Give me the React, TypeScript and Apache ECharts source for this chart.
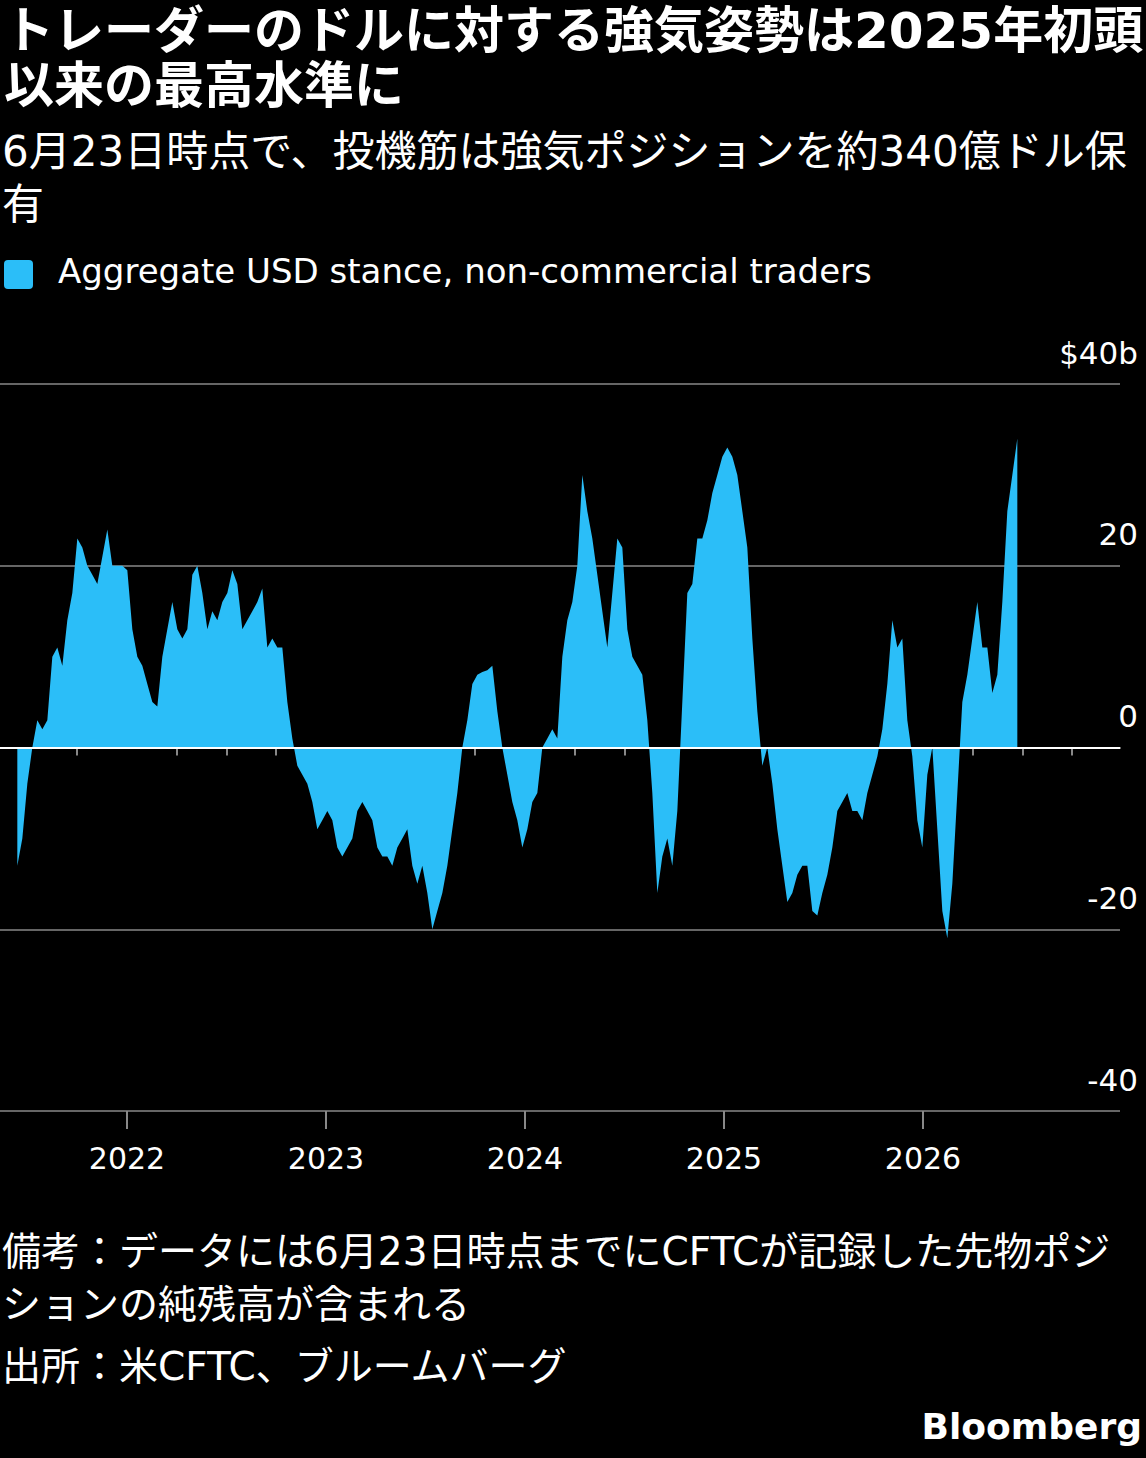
import React, { useEffect, useRef } from 'react';
import * as echarts from 'echarts';

// Net USD stance, $b, roughly every 9 days ending 2026-06-23
const stance = [
  -13, -10, -4, 0, 3, 2, 3, 10, 11, 9, 14, 17, 23, 22, 20, 19, 18, 21, 24, 20,
  20, 20, 19.5, 13, 10, 9, 7, 5, 4.5, 10, 13, 16, 13, 12, 13, 19, 20, 17, 13, 15,
  14, 16, 17, 19.5, 18, 13, 14, 15, 16, 17.5, 11, 12, 11, 11, 5, 1, -2, -3, -4, -6,
  -9, -8, -7, -8, -11, -12, -11, -10, -7, -6, -7, -8, -11, -12, -12, -13, -11, -10, -9, -13,
  -15, -13, -16, -20, -18, -16, -13, -9, -5, 0, 3, 7, 8, 8.3, 8.5, 9, 4, 0, -3, -6,
  -8, -11, -9, -6, -5, 0, 1, 2, 1, 10, 14, 16, 20, 30, 26, 23, 19, 15, 11, 17,
  23, 22, 13, 10, 9, 8, 3, -5, -16, -12, -10, -13, -7, 5, 17, 18, 23, 23, 25, 28,
  30, 32, 33, 32, 30, 26, 22, 12, 4, -2, 0, -4, -9, -13, -17, -16, -14, -13, -13, -18,
  -18.5, -16, -14, -11, -7, -6, -5, -7, -7, -8, -5, -3, -1, 2, 7, 14, 11, 12, 3, -1,
  -8, -11, -3, 0, -9, -18, -21, -15, -5, 5, 8, 12, 16, 11, 11, 6, 8, 16, 26, 30, 34,
];
const endYear = 2026 + 173 / 365; // June 23
const stepYears = 5 / 199;
const yearTicks = [2022, 2023, 2024, 2025, 2026];
const quarterTicks = [
  2021.5, 2021.75, 2022.25, 2022.5, 2022.75, 2023.25, 2023.5, 2023.75, 2024.25, 2024.5,
  2024.75, 2025.25, 2025.5, 2025.75, 2026.25, 2026.5, 2026.75,
];
const yTicks = ['-40', '-20', '0', '20', '$40b'];

const CYAN = '#2bbef8';
const FONT = '"DejaVu Sans", "Noto Sans CJK JP", sans-serif';

export default function App() {
  const ref = useRef<HTMLDivElement>(null);

  useEffect(() => {
    document.body.style.margin = '0';
    document.body.style.background = '#000';
    if (!ref.current) return;
    const chart = echarts.init(ref.current, undefined, { renderer: 'svg' });
    const n = stance.length;
    const seriesData = stance.map((v, i) => [endYear - (n - 1 - i) * stepYears, v]);
    const xMin = 2022 - 127 / 199;
    const xMax = 2022 + (1120 - 127) / 199;
    const grey = { color: '#888', width: 2 };

    chart.setOption({
      animation: false,
      backgroundColor: '#000',
      textStyle: { fontFamily: FONT },
      grid: { left: 0, right: 26, top: 384, bottom: 1458 - 1111 },
      xAxis: [
        {
          type: 'value', position: 'bottom', offset: 0, min: xMin, max: xMax,
          axisLine: { show: true, lineStyle: grey },
          axisTick: { show: true, length: 8, lineStyle: grey, customValues: quarterTicks },
          axisLabel: { show: false }, splitLine: { show: false },
        },
        {
          type: 'value', position: 'bottom', offset: 0, min: xMin, max: xMax,
          axisLine: { show: false },
          axisTick: { show: true, length: 18, lineStyle: grey, customValues: yearTicks },
          axisLabel: {
            color: '#fff', fontSize: 30, margin: 32, fontFamily: FONT,
            customValues: yearTicks, formatter: (v: number) => String(Math.round(v)),
          },
          splitLine: { show: false },
        },
      ],
      yAxis: {
        type: 'value', position: 'right', min: -40, max: 40, interval: 20,
        axisLine: { show: false }, axisTick: { show: false },
        splitLine: { lineStyle: { color: '#666', width: 2 } },
        axisLabel: {
          color: '#fff', fontSize: 31, align: 'right', verticalAlign: 'bottom',
          margin: 18, padding: [0, 0, 16, 0], fontFamily: FONT,
          formatter: (v: number) => yTicks[(v + 40) / 20],
        },
      },
      series: [
        {
          type: 'line', data: seriesData,
          showSymbol: false, lineStyle: { width: 0 }, areaStyle: { color: CYAN, opacity: 1 },
          markLine: {
            silent: true, symbol: 'none', label: { show: false },
            lineStyle: { color: '#fff', width: 2, type: 'solid' },
            data: [{ yAxis: 0 }],
          },
        },
      ],
      graphic: [
        { type: 'text', left: 4, top: 6, style: { text: 'トレーダーのドルに対する強気姿勢は2025年初頭', fill: '#fff', font: `bold 50px ${FONT}` } },
        { type: 'text', left: 4, top: 61, style: { text: '以来の最高水準に', fill: '#fff', font: `bold 50px ${FONT}` } },
        { type: 'text', left: 2, top: 130, style: { text: '6月23日時点で、投機筋は強気ポジションを約340億ドル保', fill: '#fff', font: `42px ${FONT}` } },
        { type: 'text', left: 2, top: 183, style: { text: '有', fill: '#fff', font: `42px ${FONT}` } },
        { type: 'rect', shape: { x: 4, y: 260, width: 29, height: 29, r: 4 }, style: { fill: CYAN } },
        { type: 'text', left: 58, top: 254, style: { text: 'Aggregate USD stance, non-commercial traders', fill: '#fff', font: `34px ${FONT}` } },
        { type: 'text', left: 2, top: 1232, style: { text: '備考：データには6月23日時点までにCFTCが記録した先物ポジ', fill: '#fff', font: `39px ${FONT}` } },
        { type: 'text', left: 2, top: 1285, style: { text: 'ションの純残高が含まれる', fill: '#fff', font: `39px ${FONT}` } },
        { type: 'text', left: 2, top: 1347, style: { text: '出所：米CFTC、ブルームバーグ', fill: '#fff', font: `39px ${FONT}` } },
        { type: 'text', right: 4, top: 1408, style: { text: 'Bloomberg', fill: '#fff', font: `bold 36px ${FONT}` } },
      ],
    });
    return () => chart.dispose();
  }, []);

  return <div ref={ref} style={{ width: 1146, height: 1458 }} />;
}
